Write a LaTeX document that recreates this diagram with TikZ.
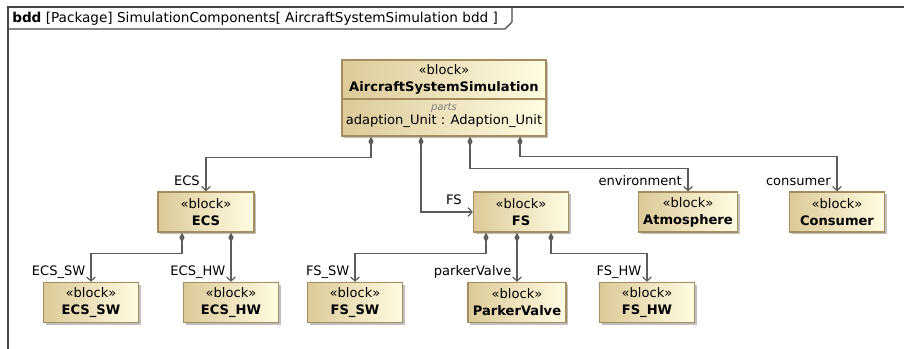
\documentclass[tikz,border=0pt]{standalone}
\usepackage{fontspec}
\setmainfont{DejaVu Sans}
\usepackage{tikz}
\usetikzlibrary{arrows.meta,shadows}

\definecolor{blockL}{HTML}{DCCA98}
\definecolor{blockR}{HTML}{FFFCE2}
\definecolor{blockB}{HTML}{A68D60}
\definecolor{lineC}{HTML}{5C5C5C}
\definecolor{frameC}{HTML}{474747}

\begin{document}
\begin{tikzpicture}[x=0.75pt, y=-0.75pt,
    font=\fontsize{9.8}{11}\selectfont,
    block/.style={rectangle, draw=blockB, line width=0.8pt, left color=blockL, right color=blockR,
      minimum width=71.25pt, minimum height=30pt, align=center, inner sep=1pt,
      font=\fontsize{9.8}{12.75}\selectfont,
      drop shadow={shadow xshift=1.6pt, shadow yshift=-1.6pt, fill=black!25, opacity=1}},
    comp/.style={draw=lineC, line width=0.85pt,
      arrows={Diamond[length=7.5pt,width=3.8pt]-Straight Barb[length=3.2pt,width=6.5pt]}},
    role/.style={anchor=base east, inner sep=0pt},
    frame/.style={draw=frameC, line width=1pt}]
  \useasboundingbox (0,0) rectangle (904,349);

  % Diagram frame
  \draw[frame] (904,7) -- (8,7) -- (8,349);
  \node[anchor=base west, inner sep=0pt, font=\fontsize{10.2}{12}\selectfont] (ttl) at (12,23)
    {\textbf{bdd} [Package] SimulationComponents[ AircraftSystemSimulation bdd ]};
  \draw[frame] (8,29) -- (505,29) -- (512,22) -- (512,7);

  % Top block
  \node[block, minimum width=153pt, minimum height=57pt] (ass) at (444,98) {};
  \node[align=center, inner sep=0pt, font=\fontsize{9.8}{12.75}\selectfont] (asst) at (444,79)
    {«block»\\ \textbf{AircraftSystemSimulation}};
  \draw[draw=blockB, line width=0.8pt] (ass.west |- 0,99) -- (ass.east |- 0,99);
  \node[inner sep=0pt, text=gray, font=\fontsize{7.5}{9}\itshape] (partsl) at (444,108) {parts};
  \node[inner sep=0pt] (adp) at (444,121) {adaption\_Unit : Adaption\_Unit};

  % Second level
  \node[block, minimum width=72pt] (ecs) at (206,212) {«block»\\ \textbf{ECS}};
  \node[block] (fs) at (521,212) {«block»\\ \textbf{FS}};
  \node[block, minimum width=74.25pt] (atm) at (688,212) {«block»\\ \textbf{Atmosphere}};
  \node[block] (cons) at (837,212) {«block»\\ \textbf{Consumer}};

  % Third level
  \node[block] (ecssw) at (91,302.5) {«block»\\ \textbf{ECS\_SW}};
  \node[block] (ecshw) at (231,302.5) {«block»\\ \textbf{ECS\_HW}};
  \node[block] (fssw) at (355,302.5) {«block»\\ \textbf{FS\_SW}};
  \node[block, minimum width=73.5pt] (pv) at (517,302.5) {«block»\\ \textbf{ParkerValve}};
  \node[block] (fshw) at (647,302.5) {«block»\\ \textbf{FS\_HW}};

  % Part associations
  \draw[comp] ([xshift=-54.75pt]ass.south) -- ++(0,21) -| (ecs.north);
  \draw[comp] ([xshift=-17.25pt]ass.south) |- (fs.west);
  \draw[comp] ([xshift=19.5pt]ass.south) -- ++(0,32) -| (atm.north);
  \draw[comp] ([xshift=57pt]ass.south) -- ++(0,20) -| (cons.north);
  \draw[comp] ([xshift=-18pt]ecs.south) -- ++(0,21) -| (ecssw.north);
  \draw[comp] (ecs.south -| ecshw.north) -- (ecshw.north);
  \draw[comp] ([xshift=-26.25pt]fs.south) -- ++(0,21) -| (fssw.north);
  \draw[comp] (fs.south -| pv.north) -- (pv.north);
  \draw[comp] ([xshift=22.5pt]fs.south) -- ++(0,21) -| (fshw.north);

  % Role names
  \node[role] (recs) at ([shift={(-4.5pt,4.5pt)}]ecs.north) {ECS};
  \node[role] (rfs) at ([shift={(-8.25pt,5.25pt)}]fs.west) {FS};
  \node[role] (ratm) at ([shift={(-4.5pt,4.5pt)}]atm.north) {environment};
  \node[role] (rcons) at ([shift={(-4.5pt,4.5pt)}]cons.north) {consumer};
  \node[role] (recssw) at ([shift={(-4pt,5pt)}]ecssw.north) {ECS\_SW};
  \node[role] (recshw) at ([shift={(-4pt,5pt)}]ecshw.north) {ECS\_HW};
  \node[role] (rfssw) at ([shift={(-4pt,5pt)}]fssw.north) {FS\_SW};
  \node[role] (rpv) at ([shift={(-4pt,5pt)}]pv.north) {parkerValve};
  \node[role] (rfshw) at ([shift={(-4pt,5pt)}]fshw.north) {FS\_HW};
\end{tikzpicture}
\end{document}
